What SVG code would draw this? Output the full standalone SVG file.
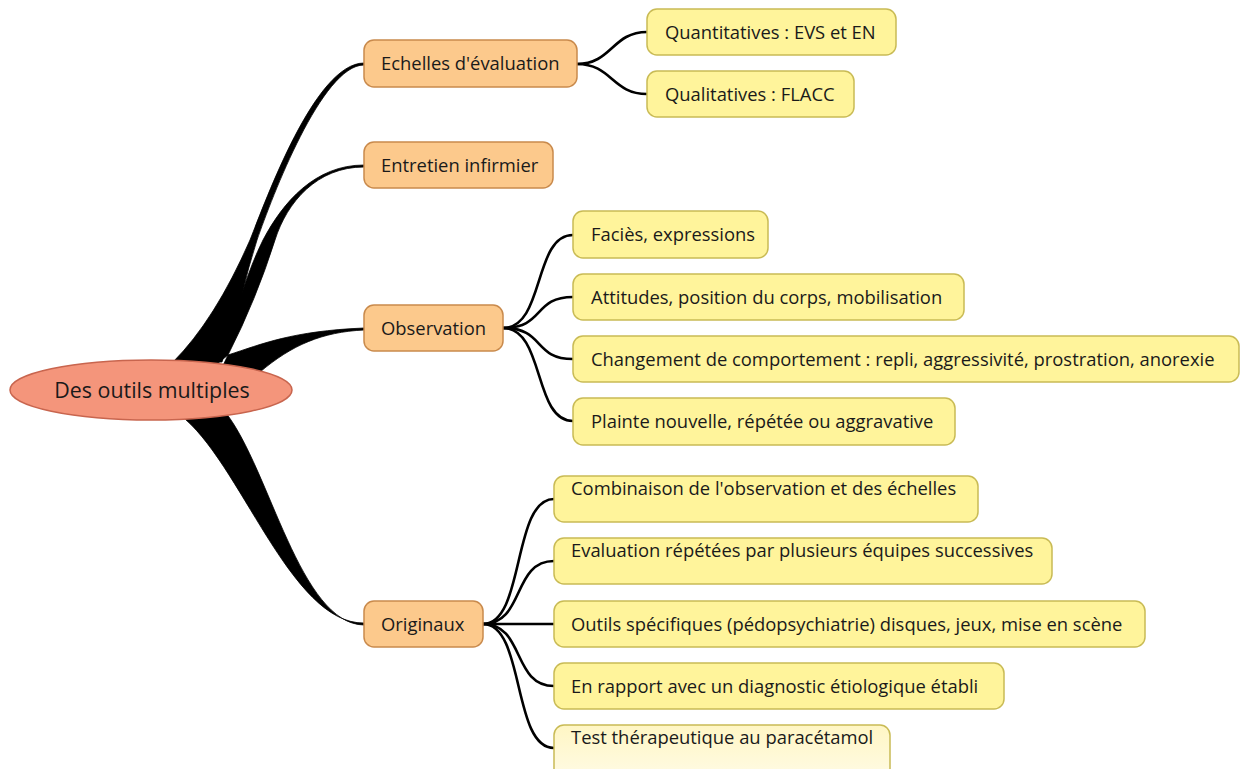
<svg xmlns="http://www.w3.org/2000/svg" width="1246" height="769" viewBox="0 0 1246 769">
<defs>
<linearGradient id="gTest" x1="0" y1="0" x2="0" y2="1">
<stop offset="0" stop-color="#FFF6C4"/>
<stop offset="1" stop-color="#FFFBE6"/>
</linearGradient>
<style>
text{font-family:"Open Sans","Noto Sans","DejaVu Sans",sans-serif;fill:#1a1a1a;}
.t1{font-size:18.4px;}
.t0{font-size:21.4px;}
.l1{fill:#FCC98C;stroke:#C98A4C;stroke-width:1.5;}
.l2{fill:#FFF49B;stroke:#C9BB55;stroke-width:1.5;}
.l2b{fill:url(#gTest);stroke:#C9BB55;stroke-width:1.5;}
.c{fill:none;stroke:#000;stroke-width:2.6;}
.tb{fill:#000;stroke:#000;stroke-width:0.8;}
</style>
</defs>
<rect width="1246" height="769" fill="#fff"/>
<g id="connectors">
<path class="tb" d="M173,362 Q215,320 250,240 C266,200 315,63 364,63 L364,65 C322,65 272,197 257,240 Q248,268 242,295 L222,362 Z"/>
<path class="tb" d="M198,364 L242,293 Q252,262 263,240 C283,202 315,165 364,165 L364,167 C317,167 287,202 275,240 Q256,300 228,355 L212,368 Z"/>
<path class="tb" d="M228,355 C262,344 292,331 364,328 L364,330 C322,332 292,345 260,372 L220,372 Z"/>
<path class="tb" d="M180,415 C240,460 290,624 364,623 L364,625 C300,624 270,470 226,413 Z"/>
<path class="c" d="M577,64 C612,64 612,32 647,32"/>
<path class="c" d="M577,64 C612,64 612,94 647,94"/>
<path class="c" d="M503,328 C545,328 533,235 573,235"/>
<path class="c" d="M503,328 C545,328 533,297 573,297"/>
<path class="c" d="M503,328 C545,328 533,359 573,359"/>
<path class="c" d="M503,328 C545,328 533,421 573,421"/>
<path class="c" d="M483,624 C525,624 512,499 554,499"/>
<path class="c" d="M483,624 C525,624 512,561 554,561"/>
<path class="c" d="M483,624 L554,624"/>
<path class="c" d="M483,624 C525,624 512,686 554,686"/>
<path class="c" d="M483,624 C525,624 512,748 554,748"/>
</g>
<g id="root">
<ellipse cx="151" cy="390" rx="141" ry="30" fill="#F4957B" stroke="#C8654E" stroke-width="1.5"/>
<text class="t0" x="152" y="398" text-anchor="middle">Des outils multiples</text>
</g>
<g id="n-echelles"><rect class="l1" x="364" y="40" width="213" height="47" rx="10"/><text class="t1" x="381" y="70">Echelles d'évaluation</text></g>
<g id="n-entretien"><rect class="l1" x="364" y="142" width="189" height="46" rx="10"/><text class="t1" x="381" y="172">Entretien infirmier</text></g>
<g id="n-observation"><rect class="l1" x="364" y="305" width="139" height="46" rx="10"/><text class="t1" x="381" y="335">Observation</text></g>
<g id="n-originaux"><rect class="l1" x="364" y="601" width="119" height="46" rx="10"/><text class="t1" x="381" y="631">Originaux</text></g>
<g id="n-quanti"><rect class="l2" x="647" y="9" width="249" height="46" rx="10"/><text class="t1" x="665" y="39">Quantitatives : EVS et EN</text></g>
<g id="n-quali"><rect class="l2" x="647" y="71" width="207" height="46" rx="10"/><text class="t1" x="665" y="101">Qualitatives : FLACC</text></g>
<g id="n-facies"><rect class="l2" x="573" y="211" width="195" height="47" rx="10"/><text class="t1" x="591" y="241">Faciès, expressions</text></g>
<g id="n-attitudes"><rect class="l2" x="573" y="274" width="391" height="46" rx="10"/><text class="t1" x="591" y="304">Attitudes, position du corps, mobilisation</text></g>
<g id="n-changement"><rect class="l2" x="573" y="336" width="666" height="46" rx="10"/><text class="t1" x="591" y="366">Changement de comportement : repli, aggressivité, prostration, anorexie</text></g>
<g id="n-plainte"><rect class="l2" x="573" y="398" width="382" height="47" rx="10"/><text class="t1" x="591" y="428">Plainte nouvelle, répétée ou aggravative</text></g>
<g id="n-combinaison"><rect class="l2" x="554" y="476" width="424" height="46" rx="10"/><text class="t1" x="571" y="495">Combinaison de l'observation et des échelles</text></g>
<g id="n-evaluation"><rect class="l2" x="554" y="538" width="498" height="46" rx="10"/><text class="t1" x="571" y="557">Evaluation répétées par plusieurs équipes successives</text></g>
<g id="n-outils"><rect class="l2" x="554" y="601" width="591" height="46" rx="10"/><text class="t1" x="571" y="631">Outils spécifiques (pédopsychiatrie) disques, jeux, mise en scène</text></g>
<g id="n-rapport"><rect class="l2" x="554" y="663" width="450" height="46" rx="10"/><text class="t1" x="571" y="693">En rapport avec un diagnostic étiologique établi</text></g>
<g id="n-test"><rect class="l2b" x="554" y="725" width="336" height="56" rx="10"/><text class="t1" x="571" y="744">Test thérapeutique au paracétamol</text></g>
</svg>
